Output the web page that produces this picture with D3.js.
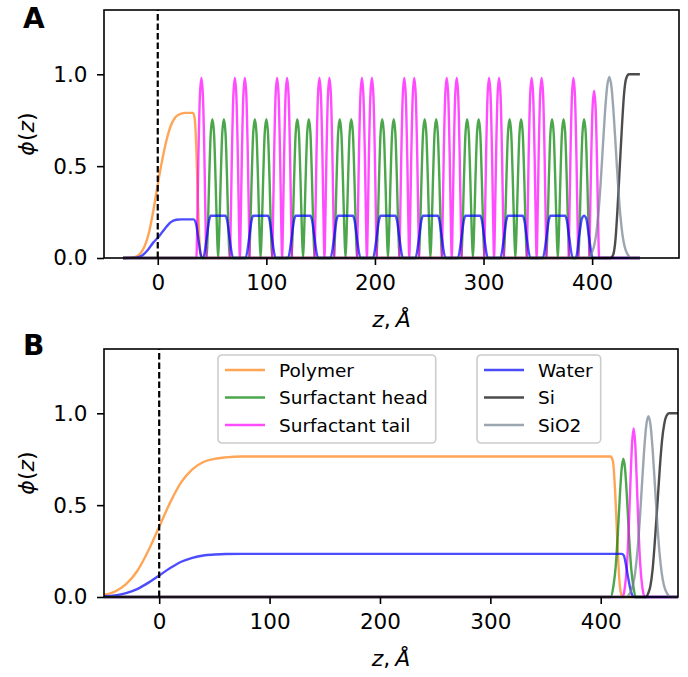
<!DOCTYPE html>
<html>
<head>
<meta charset="utf-8">
<script src="https://cdn.jsdelivr.net/npm/d3@7"></script>
<style>
  body { margin: 0; background: #fff; }
  svg { display: block; font-family: "DejaVu Sans", sans-serif; }
</style>
</head>
<body>
<div id="chart"></div>
<script>
// volume fraction profiles, [z (Å), phi]
const polymerA = [[-32,0],[-22,0.004],[-16,0.025],[-12,0.065],[-8,0.14],[-4,0.26],[0,0.4],[4,0.53],[8,0.64],[12,0.72],[16,0.765],[21,0.785],[26,0.79],[32.5,0.79],[34,0.76],[35.5,0.6],[37,0.3],[38.5,0.08],[40,0.01],[41.5,0],[444,0]];

const headA = [[-32,0],
  [45,0],[46,0.136],[47.3,0.415],[48.8,0.68],[50.3,0.755],[51.8,0.68],[53.3,0.415],[54.6,0.136],[55.6,0],[56.6,0.136],[57.9,0.415],[59.4,0.68],[60.9,0.755],[62.4,0.68],[63.9,0.415],[65.2,0.136],[66.2,0],
  [84.1,0],[85.1,0.136],[86.4,0.415],[87.9,0.68],[89.4,0.755],[90.9,0.68],[92.4,0.415],[93.7,0.136],[94.7,0],[95.7,0.136],[97,0.415],[98.5,0.68],[100,0.755],[101.5,0.68],[103,0.415],[104.3,0.136],[105.3,0],
  [123.2,0],[124.2,0.136],[125.5,0.415],[127,0.68],[128.5,0.755],[130,0.68],[131.5,0.415],[132.8,0.136],[133.8,0],[134.8,0.136],[136.1,0.415],[137.6,0.68],[139.1,0.755],[140.6,0.68],[142.1,0.415],[143.4,0.136],[144.4,0],
  [162.3,0],[163.3,0.136],[164.6,0.415],[166.1,0.68],[167.6,0.755],[169.1,0.68],[170.6,0.415],[171.9,0.136],[172.9,0],[173.9,0.136],[175.2,0.415],[176.7,0.68],[178.2,0.755],[179.7,0.68],[181.2,0.415],[182.5,0.136],[183.5,0],
  [201.4,0],[202.4,0.136],[203.7,0.415],[205.2,0.68],[206.7,0.755],[208.2,0.68],[209.7,0.415],[211,0.136],[212,0],[213,0.136],[214.3,0.415],[215.8,0.68],[217.3,0.755],[218.8,0.68],[220.3,0.415],[221.6,0.136],[222.6,0],
  [240.5,0],[241.5,0.136],[242.8,0.415],[244.3,0.68],[245.8,0.755],[247.3,0.68],[248.8,0.415],[250.1,0.136],[251.1,0],[252.1,0.136],[253.4,0.415],[254.9,0.68],[256.4,0.755],[257.9,0.68],[259.4,0.415],[260.7,0.136],[261.7,0],
  [279.6,0],[280.6,0.136],[281.9,0.415],[283.4,0.68],[284.9,0.755],[286.4,0.68],[287.9,0.415],[289.2,0.136],[290.2,0],[291.2,0.136],[292.5,0.415],[294,0.68],[295.5,0.755],[297,0.68],[298.5,0.415],[299.8,0.136],[300.8,0],
  [318.7,0],[319.7,0.136],[321,0.415],[322.5,0.68],[324,0.755],[325.5,0.68],[327,0.415],[328.3,0.136],[329.3,0],[330.3,0.136],[331.6,0.415],[333.1,0.68],[334.6,0.755],[336.1,0.68],[337.6,0.415],[338.9,0.136],[339.9,0],
  [357.8,0],[358.8,0.136],[360.1,0.415],[361.6,0.68],[363.1,0.755],[364.6,0.68],[366.1,0.415],[367.4,0.136],[368.4,0],[369.4,0.136],[370.7,0.415],[372.2,0.68],[373.7,0.755],[375.2,0.68],[376.7,0.415],[378,0.136],[379,0],
  [387.3,0],[388.3,0.136],[389.6,0.415],[391.1,0.68],[392.6,0.755],[394.1,0.68],[395.6,0.415],[396.9,0.136],[397.9,0],
  [444,0]];

const tailA = [[-32,0],
  [35.6,0],[36.4,0.196],[37.4,0.539],[38.8,0.882],[40.2,0.98],[41.6,0.882],[43,0.539],[44,0.196],[44.8,0],
  [66.4,0],[67.2,0.196],[68.2,0.539],[69.6,0.882],[71,0.98],[72.4,0.882],[73.8,0.539],[74.8,0.196],[75.6,0],[76.4,0.196],[77.4,0.539],[78.8,0.882],[80.2,0.98],[81.6,0.882],[83,0.539],[84,0.196],[84.8,0],
  [105.3,0],[106.1,0.196],[107.1,0.539],[108.5,0.882],[109.9,0.98],[111.3,0.882],[112.7,0.539],[113.7,0.196],[114.5,0],[115.3,0.196],[116.3,0.539],[117.7,0.882],[119.1,0.98],[120.5,0.882],[121.9,0.539],[122.9,0.196],[123.7,0],
  [144.3,0],[145.1,0.196],[146.1,0.539],[147.5,0.882],[148.9,0.98],[150.3,0.882],[151.7,0.539],[152.7,0.196],[153.5,0],[154.3,0.196],[155.3,0.539],[156.7,0.882],[158.1,0.98],[159.5,0.882],[160.9,0.539],[161.9,0.196],[162.7,0],
  [183.4,0],[184.2,0.196],[185.2,0.539],[186.6,0.882],[188,0.98],[189.4,0.882],[190.8,0.539],[191.8,0.196],[192.6,0],[193.4,0.196],[194.4,0.539],[195.8,0.882],[197.2,0.98],[198.6,0.882],[200,0.539],[201,0.196],[201.8,0],
  [222.4,0],[223.2,0.196],[224.2,0.539],[225.6,0.882],[227,0.98],[228.4,0.882],[229.8,0.539],[230.8,0.196],[231.6,0],[232.4,0.196],[233.4,0.539],[234.8,0.882],[236.2,0.98],[237.6,0.882],[239,0.539],[240,0.196],[240.8,0],
  [261.5,0],[262.3,0.196],[263.3,0.539],[264.7,0.882],[266.1,0.98],[267.5,0.882],[268.9,0.539],[269.9,0.196],[270.7,0],[271.5,0.196],[272.5,0.539],[273.9,0.882],[275.3,0.98],[276.7,0.882],[278.1,0.539],[279.1,0.196],[279.9,0],
  [300.5,0],[301.3,0.196],[302.3,0.539],[303.7,0.882],[305.1,0.98],[306.5,0.882],[307.9,0.539],[308.9,0.196],[309.7,0],[310.5,0.196],[311.5,0.539],[312.9,0.882],[314.3,0.98],[315.7,0.882],[317.1,0.539],[318.1,0.196],[318.9,0],
  [339.7,0],[340.5,0.196],[341.5,0.539],[342.9,0.882],[344.3,0.98],[345.7,0.882],[347.1,0.539],[348.1,0.196],[348.9,0],[349.7,0.196],[350.7,0.539],[352.1,0.882],[353.5,0.98],[354.9,0.882],[356.3,0.539],[357.3,0.196],[358.1,0],
  [378.2,0],[379,0.196],[380,0.539],[381.4,0.882],[382.8,0.98],[384.2,0.882],[385.6,0.539],[386.6,0.196],[387.4,0],
  [397.2,0],[398,0.182],[399,0.5],[400.4,0.819],[401.8,0.91],[403.2,0.819],[404.6,0.5],[405.6,0.182],[406.4,0],
  [444,0]];

const waterA = [[-32,0],[-20,0.002],[-14,0.015],[-9,0.045],[-4,0.085],[0,0.11],[4,0.14],[8,0.17],[12,0.195],[17,0.208],[22,0.21],[33,0.21],[35.5,0.18],[37.5,0.1],[39.5,0.02],[41,0],
  [41.8,0],[45.1,0.11],[47.3,0.205],[48.8,0.23],[62.4,0.23],[63.9,0.205],[66.1,0.11],[69.4,0],
  [80.9,0],[84.2,0.11],[86.4,0.205],[87.9,0.23],[101.5,0.23],[103,0.205],[105.2,0.11],[108.5,0],
  [120,0],[123.3,0.11],[125.5,0.205],[127,0.23],[140.6,0.23],[142.1,0.205],[144.3,0.11],[147.6,0],
  [159.1,0],[162.4,0.11],[164.6,0.205],[166.1,0.23],[179.7,0.23],[181.2,0.205],[183.4,0.11],[186.7,0],
  [198.2,0],[201.5,0.11],[203.7,0.205],[205.2,0.23],[218.8,0.23],[220.3,0.205],[222.5,0.11],[225.8,0],
  [237.3,0],[240.6,0.11],[242.8,0.205],[244.3,0.23],[257.9,0.23],[259.4,0.205],[261.6,0.11],[264.9,0],
  [276.4,0],[279.7,0.11],[281.9,0.205],[283.4,0.23],[297,0.23],[298.5,0.205],[300.7,0.11],[304,0],
  [315.5,0],[318.8,0.11],[321,0.205],[322.5,0.23],[336.1,0.23],[337.6,0.205],[339.8,0.11],[343.1,0],
  [354.6,0],[357.9,0.11],[360.1,0.205],[361.6,0.23],[375.2,0.23],[376.7,0.205],[378.9,0.11],[382.2,0],
  [385,0],[388.3,0.13],[390.6,0.215],[392.6,0.23],[394.6,0.215],[397,0.12],[400.6,0],
  [444,0]];

const siA = [[-32,0],[417,0],[419.5,0.02],[421.5,0.1],[423.5,0.28],[425.5,0.5],[427.5,0.72],[429.5,0.9],[431.5,0.98],[434,1],[444,1]];

const sio2A = [[-32,0],[395.8,0],[398.8,0.018],[401.8,0.065],[403.8,0.133],[405.8,0.245],[407.8,0.404],[409.8,0.598],[411.8,0.788],[413.8,0.932],[415.8,0.985],[417.8,0.932],[419.8,0.788],[421.8,0.598],[423.8,0.404],[425.8,0.245],[427.8,0.133],[429.8,0.065],[432.8,0.018],[435.8,0],[444,0]];

const polymerB = [[-50,0.012],[-40,0.03],[-30,0.07],[-20,0.14],[-10,0.25],[0,0.3825],[10,0.515],[20,0.625],[30,0.695],[40,0.735],[50,0.752],[60,0.76],[75,0.765],[409,0.765],[411,0.74],[413,0.58],[414.5,0.38],[416,0.18],[418,0.03],[420,0],[470,0]];

const headB = [[-50,0],[409,0],[411.5,0.06],[413.5,0.163],[415.5,0.345],[417.5,0.57],[419,0.7],[420.5,0.753],[422,0.7],[423.5,0.57],[425.5,0.345],[427.5,0.163],[429.5,0.06],[432,0],[470,0]];

const tailB = [[-50,0],[419.8,0],[421.8,0.049],[423.8,0.176],[425.3,0.362],[426.8,0.607],[428.3,0.827],[429.8,0.917],[431.3,0.827],[432.8,0.607],[434.3,0.362],[435.8,0.176],[437.8,0.049],[439.8,0],[470,0]];

const waterB = [[-50,0.004],[-40,0.009],[-30,0.021],[-20,0.043],[-10,0.077],[0,0.117],[10,0.158],[20,0.192],[30,0.213],[40,0.226],[50,0.231],[60,0.234],[75,0.235],[419,0.235],[421,0.225],[423,0.17],[425,0.1],[427,0.04],[429,0.005],[430.5,0],[470,0]];

const siB = [[-50,0],[441,0],[443,0.02],[445,0.06],[447,0.15],[449,0.3],[451.3,0.5],[453.5,0.7],[455.5,0.85],[457.5,0.94],[459.5,0.985],[462,1],[470,1]];

const sio2B = [[-50,0],[423.2,0],[426.2,0.018],[429.2,0.065],[431.2,0.133],[433.2,0.245],[435.2,0.404],[437.2,0.597],[439.2,0.787],[441.2,0.931],[443.2,0.984],[445.2,0.931],[447.2,0.787],[449.2,0.597],[451.2,0.404],[453.2,0.245],[455.2,0.133],[457.2,0.065],[460.2,0.018],[463.2,0],[470,0]];

const seriesNames = ['Polymer', 'Surfactant head', 'Surfactant tail', 'Water', 'Si', 'SiO2'];
const seriesColors = ['#ff7f0e', '#008000', '#ff00ff', '#0000ff', '#000000', '#708090'];
const xTicks = [0, 100, 200, 300, 400];
const yTicks = [0, 0.5, 1.0];

const width = 688, height = 677;
const svg = d3.select('#chart').append('svg')
  .attr('width', width)
  .attr('height', height);

function drawPanel(opts) {
  const x = d3.scaleLinear().domain(opts.xDomain).range([104, opts.right]);
  const y = d3.scaleLinear().domain([0, 1.35]).range([opts.bottom, opts.top]);
  const g = svg.append('g');

  const line = d3.line()
    .x(d => x(d[0]))
    .y(d => y(d[1]))
    .curve(d3.curveMonotoneX);

  opts.data.forEach((pts, i) => {
    g.append('path')
      .attr('d', line(pts))
      .attr('fill', 'none')
      .attr('stroke', seriesColors[i])
      .attr('stroke-opacity', 0.7)
      .attr('stroke-width', 2.4)
      .attr('stroke-linejoin', 'round');
  });

  // interface marker at z = 0
  g.append('line')
    .attr('x1', x(0)).attr('x2', x(0))
    .attr('y1', opts.bottom).attr('y2', opts.top)
    .attr('stroke', '#000')
    .attr('stroke-width', 2.2)
    .attr('stroke-dasharray', '6.5,3');

  const xAxis = g.append('g')
    .attr('transform', `translate(0,${opts.bottom})`)
    .call(d3.axisBottom(x).tickValues(xTicks).tickFormat(d3.format('d')).tickSize(7).tickPadding(10));
  const yAxis = g.append('g')
    .attr('transform', 'translate(104,0)')
    .call(d3.axisLeft(y).tickValues(yTicks).tickFormat(d3.format('.1f')).tickSize(7).tickPadding(9.5));
  [xAxis, yAxis].forEach(ax => {
    ax.select('.domain').remove();
    ax.selectAll('line').attr('stroke', '#000').attr('stroke-width', 1.6);
    ax.selectAll('text').attr('fill', '#000').attr('font-size', 21.5).attr('font-family', '"DejaVu Sans", sans-serif');
  });

  g.append('rect')
    .attr('x', 104).attr('y', opts.top)
    .attr('width', opts.right - 104).attr('height', opts.bottom - opts.top)
    .attr('fill', 'none').attr('stroke', '#000').attr('stroke-width', 1.6);

  // panel letter
  g.append('text')
    .attr('x', 23).attr('y', opts.letterY)
    .attr('font-size', 28).attr('font-weight', 'bold')
    .text(opts.letter);

  // y label
  const yl = g.append('text')
    .attr('transform', `translate(33.5,${(opts.top + opts.bottom) / 2}) rotate(-90)`)
    .attr('text-anchor', 'middle')
    .attr('font-size', 22);
  yl.append('tspan').attr('font-style', 'italic').text('ϕ');
  yl.append('tspan').text('(');
  yl.append('tspan').attr('font-style', 'italic').text('z');
  yl.append('tspan').text(')');

  // x label
  const xl = g.append('text')
    .attr('x', (104 + opts.right) / 2)
    .attr('y', opts.bottom + 69)
    .attr('text-anchor', 'middle')
    .attr('font-size', 22);
  xl.append('tspan').attr('font-style', 'italic').text('z');
  xl.append('tspan').text(',');
  xl.append('tspan').attr('font-style', 'italic').attr('dx', 5).text('Å');

  return { x, y, g };
}

function drawLegend(g, left, top, idx) {
  const fs = 18.5, rowH = 27.5;
  const lg = g.append('g').attr('transform', `translate(${left},${top})`);
  const box = lg.append('rect')
    .attr('rx', 4).attr('ry', 4)
    .attr('fill', '#fff').attr('fill-opacity', 0.8)
    .attr('stroke', '#cccccc').attr('stroke-width', 1.6);
  let maxW = 0;
  idx.forEach((k, i) => {
    const cy = 15 + i * rowH;
    lg.append('line')
      .attr('x1', 7).attr('x2', 47)
      .attr('y1', cy).attr('y2', cy)
      .attr('stroke', seriesColors[k]).attr('stroke-opacity', 0.7)
      .attr('stroke-width', 2.4);
    const t = lg.append('text')
      .attr('x', 61).attr('y', cy)
      .attr('dy', '0.36em')
      .attr('font-size', fs)
      .text(seriesNames[k]);
    maxW = Math.max(maxW, t.node().getComputedTextLength());
  });
  box.attr('width', 61 + maxW + 8).attr('height', 88);
}

drawPanel({
  xDomain: [-49.5, 480], right: 679, top: 10, bottom: 258,
  letter: 'A', letterY: 28,
  data: [polymerA, headA, tailA, waterA, siA, sio2A]
});

const pB = drawPanel({
  xDomain: [-50, 470], right: 678, top: 349, bottom: 597,
  letter: 'B', letterY: 355,
  data: [polymerB, headB, tailB, waterB, siB, sio2B]
});

drawLegend(pB.g, 218, 355, [0, 1, 2]);
drawLegend(pB.g, 477, 355, [3, 4, 5]);
</script>
</body>
</html>
